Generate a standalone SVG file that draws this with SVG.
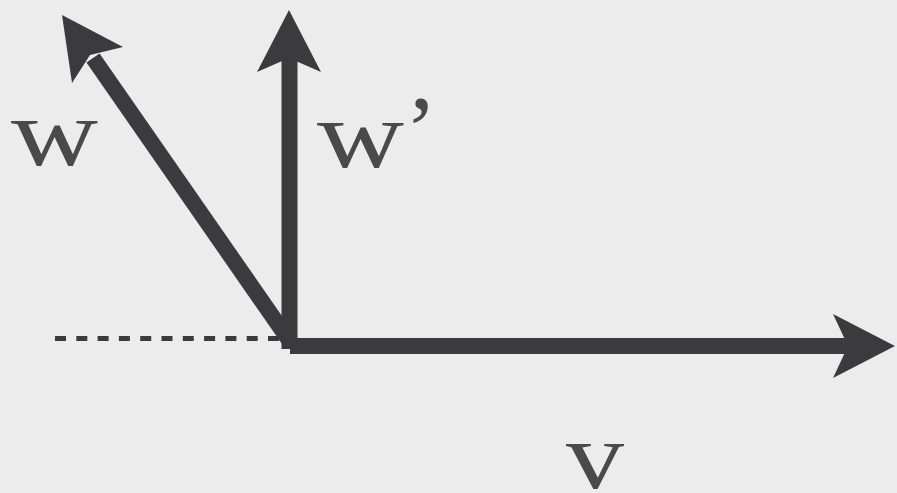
<svg xmlns="http://www.w3.org/2000/svg" width="897" height="493" viewBox="0 0 897 493">
<style>
.bar{stroke:#3b3b3d;stroke-width:16;fill:none}
.head{fill:#3b3b3d}
.dash{stroke:#3b3b3d;stroke-width:5;stroke-dasharray:11 10.3;fill:none}
.lbl{font-family:"Liberation Serif",serif;fill:#4a4a4b;font-size:96px}
</style>
<rect width="897" height="493" fill="#ececec"/>
<g id="connectors">
<line class="dash" x1="55" y1="338.5" x2="282" y2="338.5"/>
<g id="v-arrow">
<line class="bar" x1="290" y1="346" x2="852" y2="346"/>
<polygon class="head" points="895,346 833,314 848,346 833,378"/>
</g>
<g id="wprime-arrow">
<line class="bar" x1="289.5" y1="349" x2="289.5" y2="55"/>
<polygon class="head" points="289,10 257,72 289,58 321,72"/>
</g>
<g id="w-arrow">
<line class="bar" x1="291" y1="343" x2="93" y2="58"/>
<polygon class="head" points="62,15 123,47 90,55 72,83"/>
</g>
</g>
<g id="label-w"><text class="lbl" x="11" y="165" textLength="87" lengthAdjust="spacingAndGlyphs">w</text></g>
<g id="label-wprime"><text class="lbl" x="317" y="167" textLength="87" lengthAdjust="spacingAndGlyphs">w</text><text class="lbl" x="405" y="162" font-size="96">’</text></g>
<g id="label-v"><text class="lbl" x="566" y="488" font-size="92" textLength="58" lengthAdjust="spacingAndGlyphs">v</text></g>
</svg>
